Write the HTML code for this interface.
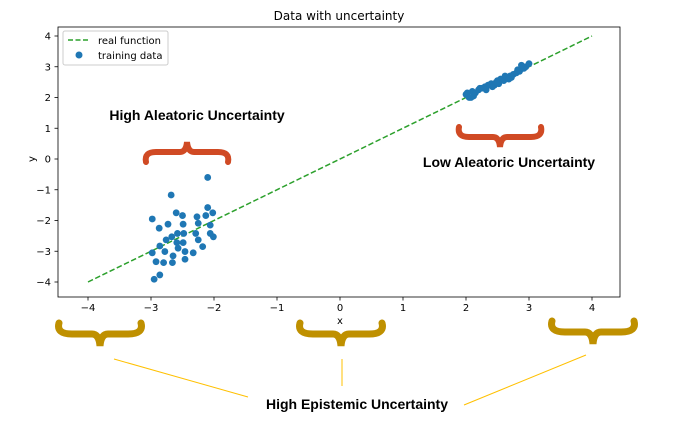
<!DOCTYPE html>
<html><head><meta charset="utf-8"><style>
body{margin:0;background:#fff;font-family:"DejaVu Sans","Liberation Sans",sans-serif;}
svg text{font-family:"DejaVu Sans","Liberation Sans",sans-serif;}
.ann{font-family:"Liberation Sans",sans-serif;font-weight:bold;font-size:14px;}
</style></head><body>
<svg id="chart" width="700" height="421" viewBox="0 0 700 421" xmlns="http://www.w3.org/2000/svg">
<text x="339" y="20" font-size="12" text-anchor="middle">Data with uncertainty</text>
<rect x="58" y="27" width="562" height="270" fill="none" stroke="#000" stroke-width="0.8"/>
<g id="ticks"></g>
<g id="line"></g>
<g id="pts"></g>
<text x="340" y="324" font-size="10" text-anchor="middle">x</text>
<text x="32" y="162" font-size="10" text-anchor="middle" transform="rotate(-90 32 159)">y</text>
<g>
<rect x="63" y="31" width="105" height="34" fill="#fff" stroke="#ccc" rx="2"/>
<line x1="68" y1="40" x2="90" y2="40" stroke="#2ca02c" stroke-width="1.5" stroke-dasharray="5,2.5"/>
<text x="98" y="44" font-size="10">real function</text>
<circle cx="79" cy="55" r="3.5" fill="#1f77b4"/>
<text x="98" y="59" font-size="10">training data</text>
</g>
<g>
<text class="ann" x="197" y="120" text-anchor="middle">High Aleatoric Uncertainty</text>
<text class="ann" x="509" y="167" text-anchor="middle">Low Aleatoric Uncertainty</text>
<text class="ann" x="357" y="409" text-anchor="middle">High Epistemic Uncertainty</text>
<path d="M146 162 Q144 152 156 152 L180 152 Q186 152 187 142 Q188 152 194 152 L218 152 Q230 152 228 162" fill="none" stroke="#d04a24" stroke-width="6" stroke-linecap="round"/>
<path d="M459 127 Q457 137 469 137 L493 137 Q499 137 500 147 Q501 137 507 137 L531 137 Q543 137 541 127" fill="none" stroke="#d04a24" stroke-width="6" stroke-linecap="round"/>
<path d="M59 323 Q56 334 72 334 L92 334 Q99 334 100 346 Q101 334 108 334 L128 334 Q144 334 141 323" fill="none" stroke="#bf9000" stroke-width="7" stroke-linecap="round"/>
<path d="M300 323 Q297 334 313 334 L333 334 Q340 334 341 346 Q342 334 349 334 L369 334 Q385 334 382 323" fill="none" stroke="#bf9000" stroke-width="7" stroke-linecap="round"/>
<path d="M552 321 Q549 332 565 332 L585 332 Q592 332 593 344 Q594 332 601 332 L621 332 Q637 332 634 321" fill="none" stroke="#bf9000" stroke-width="7" stroke-linecap="round"/>
<line x1="114" y1="359" x2="248" y2="397" stroke="#ffc000" stroke-width="1"/>
<line x1="342" y1="359" x2="342" y2="386" stroke="#ffc000" stroke-width="1"/>
<line x1="586" y1="355" x2="464" y2="405" stroke="#ffc000" stroke-width="1"/>
</g>
</svg>
<script>
const xTicks=[-4,-3,-2,-1,0,1,2,3,4];
const yTicks=[-4,-3,-2,-1,0,1,2,3,4];
const lineX=[-4,4];
const lineY=[-4,4];
const ptsX=[-2.10,-2.68,-2.98,-2.60,-2.50,-2.27,-2.10,-2.02,-2.13,-2.87,-2.73,-2.49,-2.25,-2.06,-2.48,-2.58,-2.29,-2.06,-2.01,-2.67,-2.76,-2.86,-2.59,-2.49,-2.25,-2.18,-2.57,-2.46,-2.78,-2.98,-2.33,-2.65,-2.92,-2.80,-2.66,-2.46,-2.86,-2.95,
2.00,2.05,2.10,2.15,2.20,2.25,2.30,2.35,2.40,2.45,2.50,2.55,2.60,2.65,2.70,2.75,2.80,2.85,2.90,2.95,3.00,2.02,2.12,2.22,2.32,2.42,2.52,2.62,2.72,2.82,2.92,2.08,2.48,2.68,2.88];
const ptsY=[-0.60,-1.17,-1.95,-1.75,-1.84,-1.88,-1.58,-1.75,-1.84,-2.25,-2.12,-2.12,-2.09,-2.15,-2.42,-2.42,-2.42,-2.42,-2.53,-2.53,-2.63,-2.83,-2.72,-2.72,-2.63,-2.85,-2.90,-3.01,-3.01,-3.05,-3.05,-3.15,-3.34,-3.37,-3.37,-3.26,-3.77,-3.91,
2.10,2.00,2.20,2.15,2.25,2.30,2.35,2.40,2.45,2.40,2.55,2.60,2.55,2.65,2.70,2.75,2.80,2.85,2.95,3.00,3.10,2.15,2.05,2.30,2.25,2.35,2.45,2.70,2.65,2.90,2.95,2.00,2.50,2.60,3.05];
const sx=v=>340+v*63.0;
const sy=v=>159-v*30.75;
const NS='http://www.w3.org/2000/svg';
function mk(tag,attrs,parent){const e=document.createElementNS(NS,tag);for(const k in attrs)e.setAttribute(k,attrs[k]);parent.appendChild(e);return e;}
const tg=document.getElementById('ticks');
xTicks.forEach(t=>{
 const l=mk('line',{x1:sx(t),x2:sx(t),y1:297,y2:300.5,stroke:'#000','stroke-width':0.8},tg);
 
 
 const tx=mk('text',{x:sx(t),y:311,'font-size':10,'text-anchor':'middle'},tg);
 tx.textContent=(t<0?'\u2212'+(-t):t);
 
 
});
yTicks.forEach(t=>{
 const l=mk('line',{x1:54.5,x2:58,y1:sy(t),y2:sy(t),stroke:'#000','stroke-width':0.8},tg);
 
 
 const tx=mk('text',{x:51,y:sy(t)+3.5,'font-size':10,'text-anchor':'end'},tg);
 tx.textContent=(t<0?'\u2212'+(-t):t);
 
 
});
const rl=mk('line',{x1:sx(lineX[0]),y1:sy(lineY[0]),x2:sx(lineX[1]),y2:sy(lineY[1]),stroke:'#2ca02c','stroke-width':1.5,'stroke-dasharray':'5.5,2.5'},document.getElementById('line'));


const pg=document.getElementById('pts');
ptsX.forEach((x,i)=>{
 const c=mk('circle',{cx:sx(x),cy:sy(ptsY[i]),r:3.4,fill:'#1f77b4'},pg);
 
 
});
</script>
</body></html>
